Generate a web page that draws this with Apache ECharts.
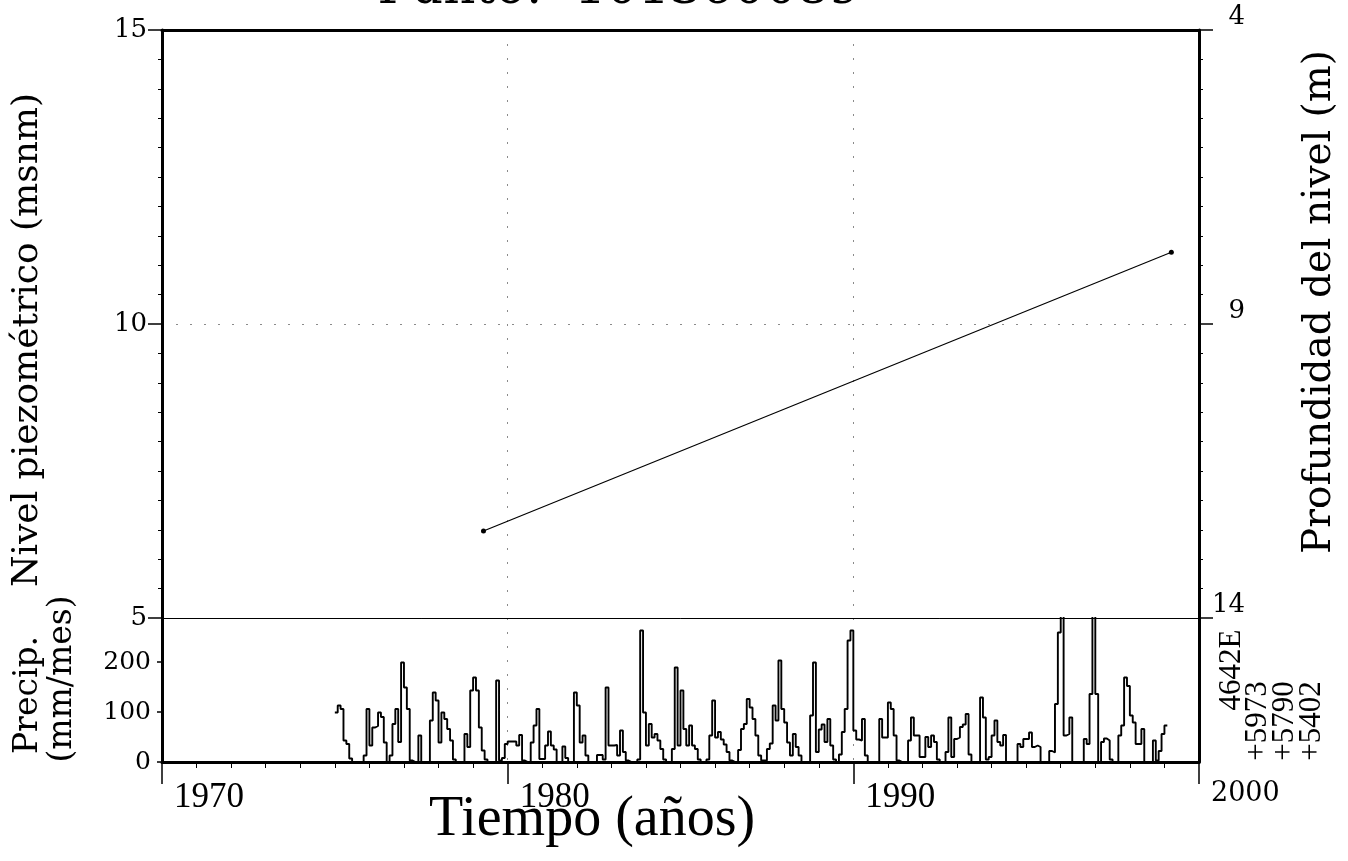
<!DOCTYPE html>
<html><head><meta charset="utf-8">
<script src="https://cdn.jsdelivr.net/npm/echarts@6/dist/echarts.min.js"></script>
<style>html,body{margin:0;padding:0;background:#fff}#c{width:1348px;height:861px}</style>
</head><body><div id="c"></div>
<script>
// ---- data ----
const titleText = 'Punto:  101360089';
const levelDates = [1979.3, 1999.2];        // years
const levelValues = [6.48, 11.22];          // msnm
const precipStartYear = 1975;               // first month = Jan 1975
const precipMm = [
  99,113,106,43,36,7,0,0,0,0,13,106,        // 1975
  33,69,72,99,90,39,0,13,76,106,40,199,     // 1976
  149,106,3,0,0,53,0,0,0,83,139,123,        // 1977
  39,99,86,66,43,5,0,0,0,56,30,143,         // 1978
  169,143,69,23,5,0,0,0,163,3,8,36,         // 1979
  41,41,41,33,54,3,0,0,39,73,106,6,         // 1980
  6,33,61,33,25,0,0,31,8,0,0,139,           // 1981
  113,39,53,13,0,0,0,14,14,5,149,33,        // 1982
  33,34,13,63,20,3,0,0,0,5,263,99,          // 1983
  33,76,49,56,43,26,5,0,0,26,189,33,        // 1984
  143,66,33,73,33,26,5,0,0,5,53,123,        // 1985
  49,60,45,35,20,3,0,0,24,66,76,126,        // 1986
  109,86,53,13,3,3,26,37,113,83,203,106,    // 1987
  79,39,13,56,30,13,0,0,0,93,199,20,        // 1988
  65,75,40,86,33,5,0,15,60,106,243,263,     // 1989
  63,45,43,86,13,0,0,0,0,86,49,49,          // 1990
  119,106,53,3,0,0,0,43,89,53,53,10,        // 1991
  10,50,30,53,40,5,0,0,20,89,10,46,         // 1992
  49,70,75,96,15,0,0,0,129,89,5,10,         // 1993
  53,83,40,33,54,0,0,0,0,36,30,46,          // 1994
  46,59,30,33,30,0,0,0,22,19,116,259,       // 1995
  400,53,56,89,0,0,0,0,46,36,136,400,       // 1996
  136,0,40,47,43,5,0,0,53,73,169,152,       // 1997
  93,79,36,36,66,0,0,0,43,3,22,56,          // 1998
  73                                        // 1999
];
const xTickLabels = ['1970', '1980', '1990', '2000'];
const levelTicks = [5, 10, 15];
const depthTicks = [4, 9, 14];
const precipTicks = [0, 100, 200];

// ---- layout ----
const L = 162, R = 1199, T = 30, MID = 618, B = 762, W = 1348;
const serif = '"DejaVu Serif", serif';
const tserif = '"Liberation Serif", serif';
const dotted = { color: '#8a8a8a', width: 1, type: [2, 12] };

const levelData = levelDates.map((d, i) => [d, levelValues[i]]);
const precipData = precipMm.map((v, i) => [precipStartYear + i / 12, v]);
precipData.push([precipStartYear + precipMm.length / 12, precipMm[precipMm.length - 1]]);

const chart = echarts.init(document.getElementById('c'), null, { renderer: 'canvas' });

function rotText(text, x, y, size, family) {
  return {
    type: 'text', x: x, y: y, rotation: Math.PI / 2, silent: true,
    style: { text: text, fill: '#000', font: size + 'px ' + family,
             align: 'center', verticalAlign: 'middle', textAlign: 'center', textVerticalAlign: 'middle' }
  };
}
function flatText(text, x, y, size, family) {
  return {
    type: 'text', x: x, y: y, silent: true,
    style: { text: text, fill: '#000', font: size + 'px ' + family,
             align: 'center', verticalAlign: 'middle', textAlign: 'center', textVerticalAlign: 'middle' }
  };
}

chart.setOption({
  animation: false,
  backgroundColor: '#fff',
  grid: [
    { left: L, right: W - R, top: T, height: MID - T },
    { left: L, right: W - R, top: MID, height: B - MID }
  ],
  xAxis: [
    { gridIndex: 0, type: 'value', min: 1970, max: 2000, interval: 10, position: 'bottom',
      axisLine: { show: true, onZero: false, lineStyle: { color: '#000', width: 1 } },
      axisTick: { show: false }, axisLabel: { show: false },
      splitLine: { show: true, lineStyle: dotted } },
    { gridIndex: 0, type: 'value', min: 1970, max: 2000, interval: 10, position: 'top',
      axisLine: { show: true, onZero: false, lineStyle: { color: '#000', width: 3 } },
      axisTick: { show: false }, axisLabel: { show: false }, splitLine: { show: false } },
    { gridIndex: 1, type: 'value', min: 1970, max: 2000, interval: 10, position: 'bottom',
      axisLine: { show: true, onZero: false, lineStyle: { color: '#000', width: 3 } },
      axisTick: { show: true, length: 22, lineStyle: { color: '#000', width: 1.5 } },
      minorTick: { show: true, splitNumber: 10, length: 6, lineStyle: { color: '#000', width: 1 } },
      axisLabel: {
        show: true, margin: 18, align: 'left', padding: [0, 0, 0, 12], color: '#000',
        formatter: function (v) {
          const s = xTickLabels[Math.round((v - 1970) / 10)];
          return v === 2000 ? '{b|' + s + '}' : '{a|' + s + '}';
        },
        rich: {
          a: { fontFamily: tserif, fontSize: 35, color: '#000' },
          b: { fontFamily: serif, fontSize: 27, color: '#000' }
        }
      },
      splitLine: { show: true, lineStyle: dotted } }
  ],
  yAxis: [
    { gridIndex: 0, type: 'value', min: 5, max: 15, interval: 5, position: 'left',
      axisLine: { show: true, onZero: false, lineStyle: { color: '#000', width: 3 } },
      axisTick: { show: true, length: 14, lineStyle: { color: '#000', width: 1.5 } },
      minorTick: { show: true, splitNumber: 10, length: 4, lineStyle: { color: '#000', width: 1 } },
      axisLabel: { color: '#000', fontFamily: serif, fontSize: 26, margin: 15,
                   verticalAlign: 'middle', padding: [0, 0, 20, 0],
                   formatter: v => String(levelTicks[Math.round((v - 5) / 5)]) },
      splitLine: { show: true, lineStyle: dotted } },
    { gridIndex: 0, type: 'value', min: 4, max: 14, interval: 5, position: 'right', inverse: true,
      axisLine: { show: true, onZero: false, lineStyle: { color: '#000', width: 3 } },
      axisTick: { show: true, length: 14, lineStyle: { color: '#000', width: 1.5 } },
      minorTick: { show: true, splitNumber: 10, length: 4, lineStyle: { color: '#000', width: 1 } },
      axisLabel: { color: '#000', fontFamily: serif, fontSize: 26, margin: 46, align: 'right',
                   verticalAlign: 'bottom',
                   formatter: v => String(depthTicks[Math.round((v - 4) / 5)]) },
      splitLine: { show: false } },
    { gridIndex: 1, type: 'value', min: 0, max: 288, interval: 100, position: 'left',
      axisLine: { show: true, onZero: false, lineStyle: { color: '#000', width: 3 } },
      axisTick: { show: true, length: 5, lineStyle: { color: '#000', width: 1.5 } },
      axisLabel: { color: '#000', fontFamily: serif, fontSize: 25, margin: 11, showMaxLabel: false,
                   verticalAlign: 'middle',
                   formatter: v => { const i = precipTicks.indexOf(v); return i < 0 ? '' : String(precipTicks[i]); } },
      splitLine: { show: false } },
    { gridIndex: 1, type: 'value', min: 0, max: 288, position: 'right',
      axisLine: { show: true, onZero: false, lineStyle: { color: '#000', width: 3 } },
      axisTick: { show: false }, axisLabel: { show: false }, splitLine: { show: false } }
  ],
  series: [
    { type: 'line', xAxisIndex: 0, yAxisIndex: 0, data: levelData,
      symbol: 'circle', symbolSize: 5, showSymbol: true,
      itemStyle: { color: '#000' }, lineStyle: { color: '#000', width: 1.2 } },
    { type: 'line', xAxisIndex: 2, yAxisIndex: 2, data: precipData, step: 'end',
      symbol: 'none', clip: true, lineStyle: { color: '#000', width: 1.9 } }
  ],
  graphic: [
    flatText(titleText, 619, -10, 50, serif),
    flatText('Tiempo (años)', 592, 820, 56, tserif),
    rotText('Nivel piezométrico (msnm)', 28, 340, 36, serif),
    rotText('Precip.', 28, 695, 33, serif),
    rotText('(mm/mes)', 62, 679, 33, serif),
    rotText('Profundidad del nivel (m)', 1320, 302, 39, serif),
    rotText('4642E', 1232, 670, 31, tserif),
    rotText('+5973', 1258, 721, 31, tserif),
    rotText('+5790', 1285, 721, 31, tserif),
    rotText('+5402', 1312, 721, 31, tserif)
  ]
});
</script>
</body></html>
